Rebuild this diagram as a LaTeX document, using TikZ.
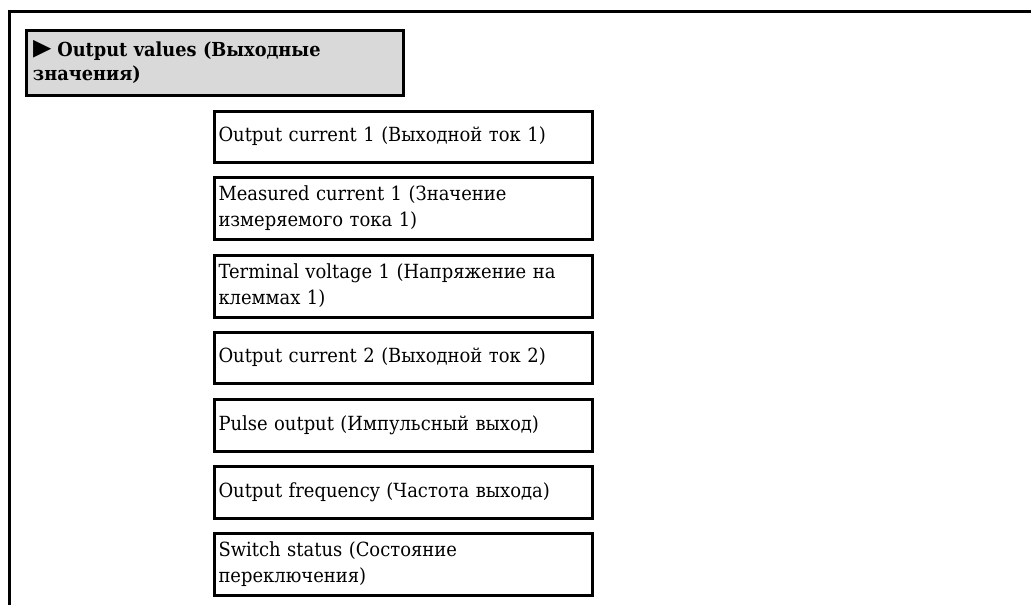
\documentclass[tikz,border=0pt]{standalone}
\usepackage{fontspec}
\setmainfont[FakeStretch=0.92]{DejaVu Serif}
\newfontfamily\symfont{DejaVu Sans}
\definecolor{hdrgray}{RGB}{217,217,217}
\begin{document}
\begin{tikzpicture}[x=1pt,y=-1pt,
  itembox/.style={draw=black, line width=3pt, anchor=north west, inner xsep=4.5pt, inner ysep=0pt,
    text width=369pt, align=left, minimum width=378pt, font=\fontsize{19.5}{26}\selectfont},
  hdrbox/.style={draw=black, fill=hdrgray, line width=3pt, anchor=north west, inner xsep=7pt, inner ysep=0pt,
    text width=363pt, align=left, minimum height=65pt, font=\fontsize{19.3}{24.5}\selectfont\bfseries},
]
\useasboundingbox (0,0) rectangle (1031,605);
\draw[line width=3.3pt] (9.5,606) -- (9.5,11.5) -- (1032,11.5);
\node[hdrbox] (hdr) at (24.5,28.5) {\smash{\raisebox{-2pt}{\scalebox{0.7}[1.05]{\symfont\fontsize{34}{0}\selectfont ►}}}\hspace{6pt}Output values (Выходные\\значения)};
\node[itembox, minimum height=51pt] (i1) at (212.5,109.5) {Output current 1 (Выходной ток 1)};
\node[itembox, minimum height=62pt] (i2) at (212.5,175.5) {Measured current 1 (Значение\\измеряемого тока 1)};
\node[itembox, minimum height=62pt] (i3) at (212.5,253.5) {Terminal voltage 1 (Напряжение на\\клеммах 1)};
\node[itembox, minimum height=51pt] (i4) at (212.5,330.5) {Output current 2 (Выходной ток 2)};
\node[itembox, minimum height=52pt] (i5) at (212.5,397.5) {Pulse output (Импульсный выход)};
\node[itembox, minimum height=52pt] (i6) at (212.5,464.5) {Output frequency (Частота выхода)};
\node[itembox, minimum height=62pt] (i7) at (212.5,531.5) {Switch status (Состояние\\переключения)};
\end{tikzpicture}
\end{document}
